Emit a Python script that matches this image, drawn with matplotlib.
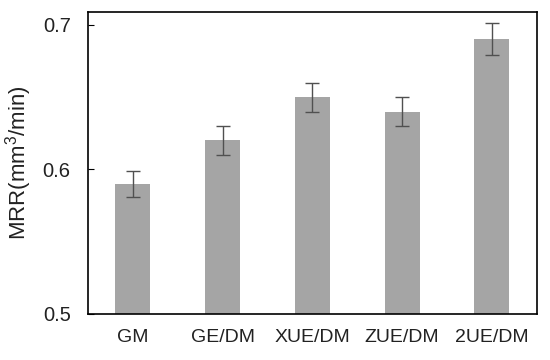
import matplotlib
matplotlib.use("Agg")
import matplotlib.pyplot as plt

plt.rcParams['font.family'] = ['Liberation Sans', 'DejaVu Sans']
plt.rcParams['mathtext.fontset'] = 'custom'
plt.rcParams['mathtext.rm'] = 'Liberation Sans'

methods = ['GM', 'GE/DM', 'XUE/DM', 'ZUE/DM', '2UE/DM']
mrr = [0.59, 0.62, 0.65, 0.64, 0.69]
err = [0.009, 0.01, 0.01, 0.01, 0.011]

fig = plt.figure(figsize=(5.5, 3.6), dpi=100)
ax = fig.add_axes([0.16, 0.128, 0.816, 0.839])

x = range(len(methods))
ax.bar(x, mrr, width=0.39, color='#a5a5a5', zorder=2)
ax.errorbar(x, mrr, yerr=err, fmt='none', ecolor='#505050', elinewidth=1,
            capsize=4.7, capthick=1, zorder=3)

ax.set_xlim(-0.5, 4.5)
ax.set_ylim(0.5, 0.709)
ax.set_yticks([0.5, 0.6, 0.7])
ax.set_yticklabels(['0.5', '0.6', '0.7'])
ax.set_xticks(list(x))
ax.set_xticklabels(methods)
ax.tick_params(axis='y', direction='in', length=4, labelsize=14.5, pad=12.5,
               labelcolor='#222222')
ax.tick_params(axis='x', length=0, labelsize=14, pad=11, labelcolor='#222222')
ax.set_ylabel('MRR(mm$^\\mathrm{3}$/min)', fontsize=16, labelpad=6, color='#222222')
for s in ax.spines.values():
    s.set_linewidth(1.2)

fig.savefig('out.png', dpi=100)
